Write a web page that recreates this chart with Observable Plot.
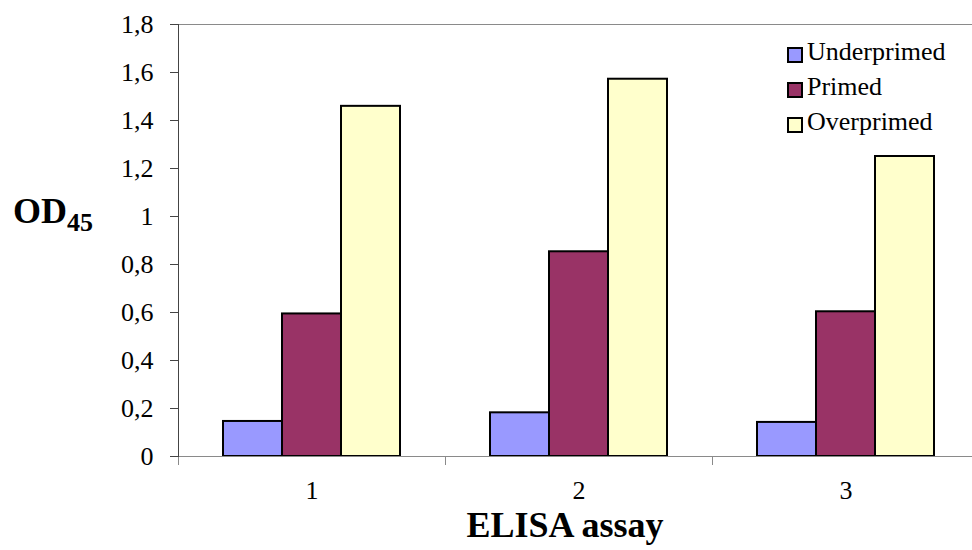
<!DOCTYPE html>
<html><head><meta charset="utf-8">
<script src="https://cdn.jsdelivr.net/npm/d3@7"></script>
<script src="https://cdn.jsdelivr.net/npm/@observablehq/plot@0.6"></script>
<style>
html,body{margin:0;padding:0;background:#fff;overflow:hidden;}
#wrap{position:relative;width:972px;height:550px;overflow:hidden;}
#legend{position:absolute;left:787px;top:34px;font-family:"Liberation Serif",Tinos,"Times New Roman",Times,"DejaVu Serif",serif;font-size:26px;color:#000;}
.row{display:flex;align-items:center;height:35px;line-height:35px;white-space:nowrap;}
.sw{width:12px;height:12px;border:2px solid #000;margin-right:4px;position:relative;top:3px;}
</style></head><body><div id="wrap"><div id="legend"></div></div>
<script>
const assays = ["1", "2", "3"];
const series = ["Underprimed", "Primed", "Overprimed"];
const colors = ["#9999FF", "#993366", "#FFFFCC"];
const underprimed = [0.146, 0.182, 0.142];
const primed = [0.594, 0.853, 0.603];
const overprimed = [1.459, 1.572, 1.250];
const yTicks = [0, 0.2, 0.4, 0.6, 0.8, 1, 1.2, 1.4, 1.6, 1.8];
const yTitle = "OD";
const yTitleSub = "45";
const xTitle = "ELISA assay";
const FONT = "'Liberation Serif', Tinos, 'Times New Roman', Times, 'DejaVu Serif', serif";

const valuesBySeries = {Underprimed: underprimed, Primed: primed, Overprimed: overprimed};
const data = [];
assays.forEach((a, i) => series.forEach(s => data.push({assay: a, series: s, od: valuesBySeries[s][i]})));

const chart = Plot.plot({
  width: 979, height: 550,
  marginLeft: 178, marginRight: 0, marginTop: 24, marginBottom: 94,
  style: {maxWidth: "none", fontFamily: FONT, background: "#fff", color: "#000"},
  fx: {domain: assays, padding: 0},
  x: {domain: series, paddingInner: 0, paddingOuter: 0.73, axis: null},
  y: {domain: [0, 1.8]},
  color: {domain: series, range: colors},
  marks: [
    Plot.ruleY([1.8], {stroke: "#8a8a8a"}),
    Plot.barY(data, {fx: "assay", x: "series", y: "od", fill: "series", stroke: "#000", strokeWidth: 2}),
    Plot.ruleY([0], {stroke: "#8a8a8a"}),
    Plot.frame({anchor: "left", insetTop: 432, insetBottom: -8, stroke: "#8a8a8a"}),
    Plot.frame({anchor: "left", facetAnchor: "left", stroke: "#444"}),
    Plot.axisY({ticks: yTicks, tickSize: 8, tickPadding: 17, fontSize: 26, stroke: "#444", fill: "#000", label: null,
      fontFamily: FONT, tickFormat: d => String(+d.toFixed(1)).replace(".", ",")}),
    Plot.axisFx({anchor: "bottom", tickSize: 0, tickPadding: 24, fontSize: 26, fill: "#000", label: null, fontFamily: FONT})
  ]
});

const svg = d3.select(chart);
const t = svg.append("text")
  .attr("x", 13).attr("y", 223).attr("text-anchor", "start")
  .style("font-family", FONT)
  .attr("font-weight", "bold").attr("font-size", 36).attr("fill", "#000");
t.append("tspan").text(yTitle);
t.append("tspan").attr("dy", 8).attr("font-size", 26).text(yTitleSub);
svg.append("text")
  .attr("x", 565).attr("y", 537).attr("text-anchor", "middle")
  .style("font-family", FONT)
  .attr("font-weight", "bold").attr("font-size", 36).attr("fill", "#000")
  .text(xTitle);

const wrap = document.getElementById("wrap");
wrap.insertBefore(chart, wrap.firstChild);
const legend = d3.select("#legend");
series.forEach((s, i) => {
  const row = legend.append("div").attr("class", "row");
  row.append("div").attr("class", "sw").style("background", colors[i]);
  row.append("span").text(s);
});
</script></body></html>
